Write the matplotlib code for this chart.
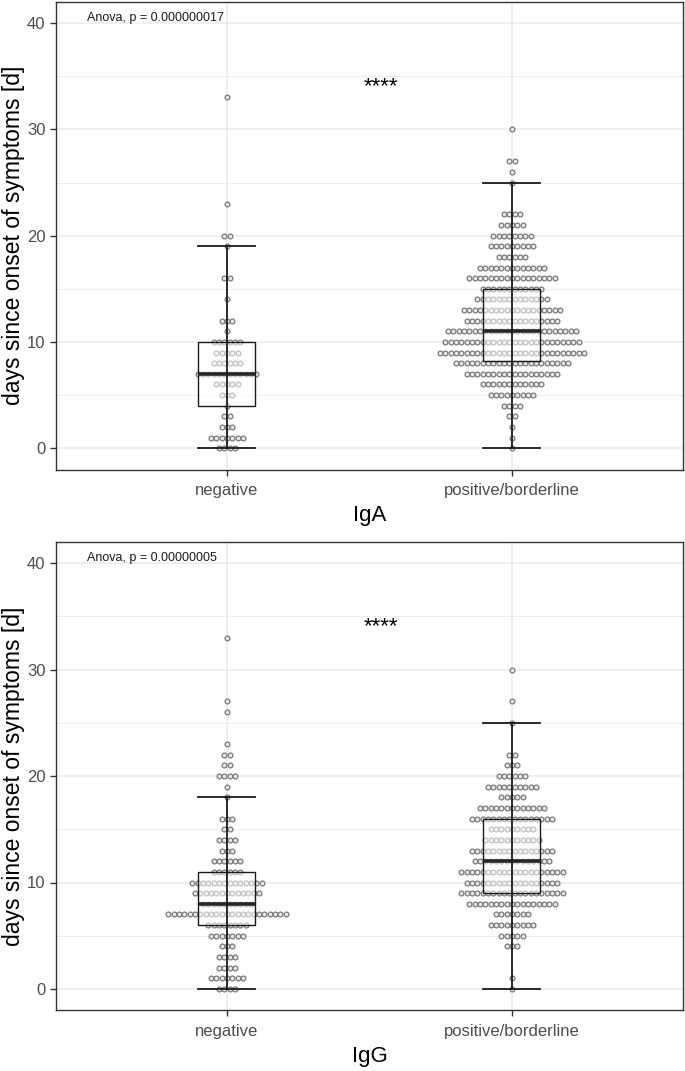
import numpy as np
import matplotlib
matplotlib.use("Agg")
import matplotlib.pyplot as plt

plt.rcParams['font.family'] = ['Liberation Sans', 'DejaVu Sans']

groups = ['negative', 'positive/borderline']
days = np.arange(0, 34)

# dot counts per day (index = day)
iga_negative = [4, 7, 3, 2, 1, 3, 5, 12, 6, 5, 6, 1, 3, 0, 1, 0, 2, 0, 0, 1,
                2, 0, 0, 1, 0, 0, 0, 0, 0, 0, 0, 0, 0, 1]
iga_positive = [1, 1, 1, 2, 4, 9, 12, 18, 22, 28, 26, 25, 18, 19, 14, 12, 17, 13, 6, 9,
                8, 5, 4, 0, 0, 1, 1, 2, 0, 0, 1, 0, 0, 0]
igg_negative = [4, 7, 4, 4, 3, 7, 8, 23, 10, 13, 14, 6, 6, 3, 4, 2, 3, 0, 1, 1,
                4, 2, 2, 1, 0, 0, 1, 1, 0, 0, 0, 0, 0, 1]
igg_positive = [1, 1, 0, 0, 3, 5, 9, 7, 17, 20, 18, 20, 15, 16, 11, 9, 16, 13, 5, 10,
                6, 3, 2, 0, 0, 1, 0, 1, 0, 0, 1, 0, 0, 0]

# box stats: whisker low, q1, median, q3, whisker high
iga_box = [[0, 4, 7, 10, 19], [0, 8.25, 11, 15, 25]]
igg_box = [[0, 6, 8, 11, 18], [0, 9, 12, 16, 25]]

iga_p = "Anova, p = 0.000000017"
igg_p = "Anova, p = 0.00000005"
signif = "****"


def draw_panel(ax, counts_list, box_list, p_text, xlabel):
    dot_w = 0.01875
    for i, counts in enumerate(counts_list):
        pos = i + 1
        xs, ys = [], []
        for d, n in zip(days, counts):
            for k in range(n):
                xs.append(pos + (k - (n - 1) / 2) * dot_w)
                ys.append(d)
        ax.scatter(xs, ys, s=12, facecolor='#e8e8e8', edgecolor='#7a7a7a',
                   linewidth=0.9, zorder=3)

    stats = []
    for b in box_list:
        stats.append(dict(whislo=b[0], q1=b[1], med=b[2], q3=b[3], whishi=b[4], fliers=[]))
    ax.bxp(stats, positions=[1, 2], widths=0.2, patch_artist=True, showfliers=False,
           showcaps=False,
           boxprops=dict(facecolor=(1, 1, 1, 0.55), edgecolor='#1a1a1a', linewidth=1.0),
           medianprops=dict(color='#262626', linewidth=2.6),
           whiskerprops=dict(linewidth=0), zorder=4)
    # error bar style whiskers through the box
    for i, b in enumerate(box_list):
        pos = i + 1
        ax.plot([pos, pos], [b[0], b[4]], color='#1a1a1a', lw=1.3, zorder=5)
        ax.plot([pos - 0.1, pos + 0.1], [b[0], b[0]], color='#1a1a1a', lw=1.3, zorder=5)
        ax.plot([pos - 0.1, pos + 0.1], [b[4], b[4]], color='#1a1a1a', lw=1.3, zorder=5)

    ax.text(0.508, 40.5, p_text, fontsize=9, va='center', ha='left', color='#1a1a1a')
    ax.text(1.54, 34.0, signif, fontsize=16, va='center', ha='center', color='black')

    ax.set_xlim(0.4, 2.6)
    ax.set_ylim(-2, 42)
    ax.set_xticks([1, 2])
    ax.set_xticklabels(groups)
    ax.set_yticks([0, 10, 20, 30, 40])
    ax.set_yticks([5, 15, 25, 35], minor=True)
    ax.tick_params(axis='both', which='major', labelsize=12, labelcolor='#4d4d4d',
                   color='#333333', length=4, width=1)
    ax.tick_params(axis='x', which='major', pad=6)
    ax.tick_params(axis='y', which='minor', length=0)
    ax.grid(which='major', color='#ebebeb', lw=1.1, zorder=0)
    ax.grid(which='minor', axis='y', color='#ebebeb', lw=0.6, zorder=0)
    ax.set_axisbelow(True)
    for s in ax.spines.values():
        s.set_color('#333333')
        s.set_linewidth(1.0)
    ax.set_xlabel(xlabel, fontsize=16, labelpad=5)
    ax.set_ylabel('days since onset of symptoms [d]', fontsize=16.5, labelpad=1.5)


fig = plt.figure(figsize=(6.85, 10.71), dpi=100)
ax1 = fig.add_axes([56 / 685, 1 - 469.5 / 1071, 627 / 685, 467.7 / 1071])
ax2 = fig.add_axes([56 / 685, 1 - 1010.3 / 1071, 627 / 685, 468.6 / 1071])

draw_panel(ax1, [iga_negative, iga_positive], iga_box, iga_p, 'IgA')
draw_panel(ax2, [igg_negative, igg_positive], igg_box, igg_p, 'IgG')

fig.savefig('out.png', dpi=100)
